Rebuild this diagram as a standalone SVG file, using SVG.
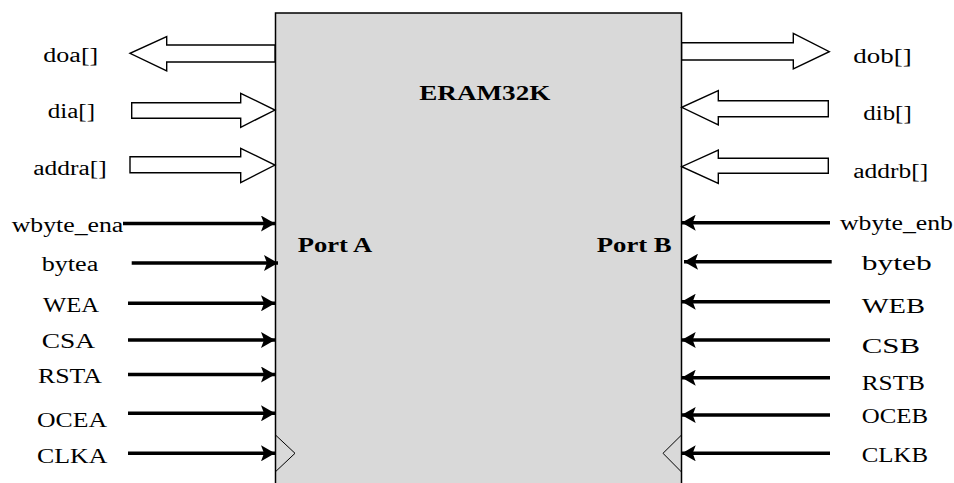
<svg xmlns="http://www.w3.org/2000/svg" width="954" height="483" viewBox="0 0 954 483">
<style>
  .lbl { font-family: "Liberation Serif", "Times New Roman", serif; font-size: 20px; fill: #000; }
  .ttl { font-family: "Liberation Serif", "Times New Roman", serif; font-size: 21px; font-weight: bold; fill: #000; }
  .bus { fill: #fff; stroke: #000; stroke-width: 1.4; stroke-linejoin: miter; }
  .sig { stroke: #000; stroke-width: 3.5; fill: none; }
  .clk { fill: none; stroke: #000; stroke-width: 1; }
</style>
<defs>
  <marker id="ah" viewBox="0 0 14 16" refX="14" refY="8" markerWidth="14" markerHeight="16" markerUnits="userSpaceOnUse" orient="auto">
    <path d="M0,0 L14,8 L0,16 L3,8 Z" fill="#000"/>
  </marker>
</defs>
<rect width="954" height="483" fill="#fff"/>
<g id="eram32k">
  <rect x="275.5" y="13" width="406" height="480" fill="#d9d9d9" stroke="#000" stroke-width="1.5"/>
  <text class="ttl" x="419.3" y="99.5" textLength="131" lengthAdjust="spacingAndGlyphs">ERAM32K</text>
  <text class="ttl" x="297.7" y="251.5" textLength="74.6" lengthAdjust="spacingAndGlyphs">Port A</text>
  <text class="ttl" x="596.7" y="252" textLength="75" lengthAdjust="spacingAndGlyphs">Port B</text>
  <polyline class="clk" points="275.5,435 295,453.3 275.5,471.7"/>
  <polyline class="clk" points="681.5,435 663,453.3 681.5,472"/>
</g>
<g id="connectors">
  <polygon class="bus" points="275,45 166.7,45 166.7,36.7 130,53.3 166.7,71 166.7,62 275,62"/>
  <polygon class="bus" points="131.7,102.7 240.7,102.7 240.7,93.3 275,110 240.7,127.3 240.7,118.3 131.7,118.3"/>
  <polygon class="bus" points="130,156.7 240.7,156.7 240.7,148.3 275,165 240.7,182.7 240.7,172.7 130,172.7"/>
  <polygon class="bus" points="681.7,42.7 793.3,42.7 793.3,33.3 829.3,51.7 793.3,69 793.3,60 681.7,60"/>
  <polygon class="bus" points="828.3,100.7 718.3,100.7 718.3,90.7 681.7,107.3 718.3,125 718.3,116.7 828.3,116.7"/>
  <polygon class="bus" points="828.3,158.3 718.3,158.3 718.3,150 681.7,166.7 718.3,183.3 718.3,173.3 828.3,173.3"/>
  <line class="sig" x1="123" y1="223.5" x2="275" y2="223.5" marker-end="url(#ah)"/>
  <line class="sig" x1="131.7" y1="263" x2="278" y2="263" marker-end="url(#ah)"/>
  <line class="sig" x1="128" y1="303.3" x2="275" y2="303.3" marker-end="url(#ah)"/>
  <line class="sig" x1="128" y1="340" x2="275" y2="340" marker-end="url(#ah)"/>
  <line class="sig" x1="128" y1="374.5" x2="275" y2="374.5" marker-end="url(#ah)"/>
  <line class="sig" x1="128" y1="413.3" x2="275" y2="413.3" marker-end="url(#ah)"/>
  <line class="sig" x1="128" y1="453.3" x2="275" y2="453.3" marker-end="url(#ah)"/>
  <line class="sig" x1="830" y1="222.7" x2="681.7" y2="222.7" marker-end="url(#ah)"/>
  <line class="sig" x1="831.7" y1="261.7" x2="684" y2="261.7" marker-end="url(#ah)"/>
  <line class="sig" x1="830" y1="301.7" x2="681.7" y2="301.7" marker-end="url(#ah)"/>
  <line class="sig" x1="830" y1="340" x2="681.7" y2="340" marker-end="url(#ah)"/>
  <line class="sig" x1="830" y1="377.7" x2="681.7" y2="377.7" marker-end="url(#ah)"/>
  <line class="sig" x1="830" y1="415" x2="681.7" y2="415" marker-end="url(#ah)"/>
  <line class="sig" x1="830" y1="453.3" x2="681.7" y2="453.3" marker-end="url(#ah)"/>
</g>
<g id="labels-a">
  <text id="l-doa" class="lbl" x="43.3" y="62" textLength="55" lengthAdjust="spacingAndGlyphs">doa[]</text>
  <text id="l-dia" class="lbl" x="47.7" y="118.3" textLength="47.3" lengthAdjust="spacingAndGlyphs">dia[]</text>
  <text id="l-addra" class="lbl" x="33.3" y="175" textLength="73.4" lengthAdjust="spacingAndGlyphs">addra[]</text>
  <text id="l-wbyte_ena" class="lbl" x="11.7" y="231.7" textLength="111.6" lengthAdjust="spacingAndGlyphs">wbyte_ena</text>
  <text id="l-bytea" class="lbl" x="41.7" y="270.5" textLength="56.6" lengthAdjust="spacingAndGlyphs">bytea</text>
  <text id="l-wea" class="lbl" x="43" y="311.7" textLength="56" lengthAdjust="spacingAndGlyphs">WEA</text>
  <text id="l-csa" class="lbl" x="41.7" y="348" textLength="53.3" lengthAdjust="spacingAndGlyphs">CSA</text>
  <text id="l-rsta" class="lbl" x="38" y="382.7" textLength="64" lengthAdjust="spacingAndGlyphs">RSTA</text>
  <text id="l-ocea" class="lbl" x="37" y="426.7" textLength="70" lengthAdjust="spacingAndGlyphs">OCEA</text>
  <text id="l-clka" class="lbl" x="37" y="463.3" textLength="70.3" lengthAdjust="spacingAndGlyphs">CLKA</text>
</g>
<g id="labels-b">
  <text id="l-dob" class="lbl" x="853.3" y="63.3" textLength="58.4" lengthAdjust="spacingAndGlyphs">dob[]</text>
  <text id="l-dib" class="lbl" x="863.3" y="120" textLength="48.4" lengthAdjust="spacingAndGlyphs">dib[]</text>
  <text id="l-addrb" class="lbl" x="853.3" y="178.3" textLength="75" lengthAdjust="spacingAndGlyphs">addrb[]</text>
  <text id="l-wbyte_enb" class="lbl" x="840" y="230" textLength="113" lengthAdjust="spacingAndGlyphs">wbyte_enb</text>
  <text id="l-byteb" class="lbl" x="861.7" y="270" textLength="70" lengthAdjust="spacingAndGlyphs">byteb</text>
  <text id="l-web" class="lbl" x="861.7" y="313.3" textLength="63.3" lengthAdjust="spacingAndGlyphs">WEB</text>
  <text id="l-csb" class="lbl" x="861.7" y="353.3" textLength="58.3" lengthAdjust="spacingAndGlyphs">CSB</text>
  <text id="l-rstb" class="lbl" x="861.7" y="390" textLength="63.3" lengthAdjust="spacingAndGlyphs">RSTB</text>
  <text id="l-oceb" class="lbl" x="861.7" y="422.7" textLength="66.3" lengthAdjust="spacingAndGlyphs">OCEB</text>
  <text id="l-clkb" class="lbl" x="861.7" y="461.7" textLength="66.3" lengthAdjust="spacingAndGlyphs">CLKB</text>
</g>
</svg>
